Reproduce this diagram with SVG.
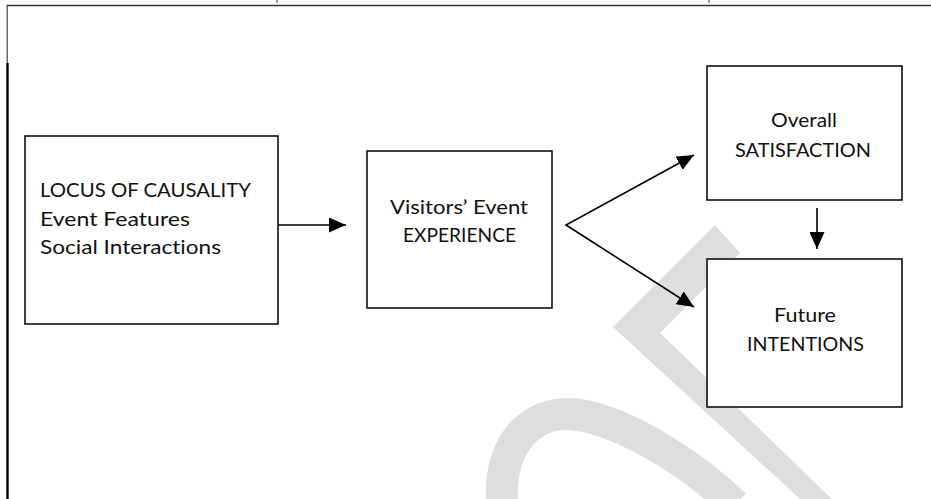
<svg xmlns="http://www.w3.org/2000/svg" width="931" height="499" viewBox="0 0 931 499">
  <style>
    .box { fill: #ffffff; stroke: #000000; stroke-width: 1.5; }
    .lbl { font-family: Lato, "Liberation Sans", Arial, sans-serif; font-size: 20px; fill: #111111; font-variant-ligatures: none; }
    .mid { text-anchor: middle; }
    .conn { fill: none; stroke: #000000; stroke-width: 1.6; stroke-linejoin: miter; }
    .wm { fill: #dedede; }
  </style>
  <defs>
    <marker id="arrow" viewBox="0 0 17 15" markerWidth="17" markerHeight="15" refX="17" refY="7.5" orient="auto-start-reverse" markerUnits="userSpaceOnUse">
      <path d="M0,0 L17,7.5 L0,15 z" fill="#000000"/>
    </marker>
  </defs>
  <rect width="931" height="499" fill="#ffffff"/>

  <!-- page frame and ruler ticks -->
  <g id="frame">
    <line x1="7" y1="5.5" x2="931" y2="5.5" stroke="#333333" stroke-width="1.3"/>
    <line x1="7.2" y1="5" x2="7.2" y2="63" stroke="#444444" stroke-width="1.2"/>
    <line x1="7.5" y1="63" x2="7.5" y2="499" stroke="#000000" stroke-width="2.4"/>
    <line x1="277" y1="0" x2="277" y2="3" stroke="#333333" stroke-width="1"/>
    <line x1="709" y1="0" x2="709" y2="3" stroke="#333333" stroke-width="1"/>
  </g>

  <!-- watermark -->
  <g id="watermark">
    <polygon class="wm" points="715,225 740,253 660,333 832,499 800,499 613,327"/>
    <path d="M502,505 C498,440 535,405 585,416 C630,426 690,462 735,505" fill="none" stroke="#dedede" stroke-width="32"/>
  </g>

  <g id="locus">
    <rect class="box" x="25" y="136" width="253" height="188"/>
    <text class="lbl" x="40" y="197" textLength="211" lengthAdjust="spacingAndGlyphs">LOCUS OF CAUSALITY</text>
    <text class="lbl" x="40" y="226" textLength="150" lengthAdjust="spacingAndGlyphs">Event Features</text>
    <text class="lbl" x="40" y="254" textLength="181" lengthAdjust="spacingAndGlyphs">Social Interactions</text>
  </g>

  <g id="experience">
    <rect class="box" x="367" y="151" width="185" height="157"/>
    <text class="lbl mid" x="459" y="214" textLength="138" lengthAdjust="spacingAndGlyphs">Visitors’ Event</text>
    <text class="lbl mid" x="459.5" y="242" textLength="113" lengthAdjust="spacingAndGlyphs">EXPERIENCE</text>
  </g>

  <g id="satisfaction">
    <rect class="box" x="707" y="66" width="195" height="134"/>
    <text class="lbl mid" x="804" y="127" textLength="66" lengthAdjust="spacingAndGlyphs">Overall</text>
    <text class="lbl mid" x="803" y="157" textLength="136" lengthAdjust="spacingAndGlyphs">SATISFACTION</text>
  </g>

  <g id="intentions">
    <rect class="box" x="707" y="259" width="195" height="148"/>
    <text class="lbl mid" x="805" y="322" textLength="62" lengthAdjust="spacingAndGlyphs">Future</text>
    <text class="lbl mid" x="805.5" y="351" textLength="117" lengthAdjust="spacingAndGlyphs">INTENTIONS</text>
  </g>

  <g id="connectors">
    <line class="conn" x1="278" y1="225" x2="346" y2="225" marker-end="url(#arrow)"/>
    <path class="conn" d="M694,155 L566,225 L694,307" marker-start="url(#arrow)" marker-end="url(#arrow)"/>
    <line class="conn" x1="817" y1="208" x2="817" y2="249" marker-end="url(#arrow)"/>
  </g>
</svg>
